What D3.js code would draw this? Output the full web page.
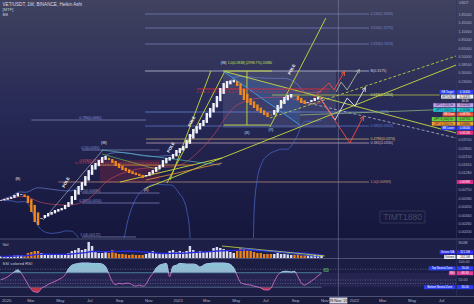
<!DOCTYPE html>
<html>
<head>
<meta charset="utf-8">
<script src="https://cdn.jsdelivr.net/npm/d3@7"></script>
<style>
html, body { margin: 0; padding: 0; background: #17193d; }
svg { display: block; font-family: "Liberation Sans", Arial, sans-serif; }
</style>
</head>
<body>
<svg id="chart" width="474" height="304"></svg>
<script>
// ---- data (weekly Heikin Ashi VET/USDT) ----
const barStart = Date.UTC(2019, 11, 30);
const firstOpen = 0.0054;
const haClose = [0.0055,0.00567,0.00586,0.00604,0.00643,0.00685,0.00664,0.00604,0.0050,0.00377,
  0.00275,0.0025,0.00312,0.00343,0.00365,0.00377,0.00401,0.00414,0.00427,0.0047,
  0.00516,0.00623,0.00753,0.00853,0.00967,0.01168,0.0141,0.0165,0.01759,0.0193,
  0.02125,0.0219,0.0193,0.01759,0.0160,0.01503,0.0141,0.01366,0.01282,0.01243,
  0.01206,0.01168,0.0110,0.01206,0.01325,0.0141,0.01552,0.0165,0.0193,0.0206,
  0.02125,0.02335,0.0265,0.0282,0.0300,0.0363,0.0438,0.0513,0.0563,0.0619,
  0.068,0.0847,0.0993,0.1161,0.1447,0.186,0.2178,0.2318,0.236,0.241,
  0.1981,0.1493,0.1276,0.1161,0.109,0.0993,0.0903,0.0847,0.0796,0.0747,
  0.0796,0.0932,0.109,0.1276,0.1402,0.1493,0.1541,0.1447,0.1276,0.1161,
  0.1125,0.1198,0.1276,0.1359,0.1402,0.1359];
// volume in millions
const volume = [80,80,106,106,132,159,132,159,265,318,
  371,371,265,212,185,159,159,185,159,212,
  265,371,424,530,424,477,848,636,318,265,
  265,318,265,424,265,212,212,185,159,185,
  159,159,159,212,265,371,265,212,212,265,
  371,424,318,371,318,371,636,424,318,371,
  318,318,371,530,583,530,477,371,318,265,
  424,530,477,424,371,318,265,265,212,212,
  212,212,265,212,212,185,159,159,159,132,
  132,132,132,159,132,132];
const rsiValues = [51,54,59,66,73,78,69,54,38,23,
  17,16,27,32,38,42,46,51,56,64,
  81,91,94,96,97,97,97,96,96,96,
  94,87,66,46,37,41,39,41,41,36,
  33,36,33,38,56,68,83,91,94,96,
  59,88,91,96,95,94,94,94,92,86,
  91,95,96,97,97,97,97,96,93,83,
  62,43,39,37,36,33,31,28,23,22,
  27,46,63,71,74,74,72,74,59,42,
  36,41,47,54,62,69];

const timeTicks = [["2020-01-01","2020"],["2020-03-01","Mar"],["2020-05-01","May"],["2020-07-01","Jul"],
  ["2020-09-01","Sep"],["2020-11-01","Nov"],["2021-01-01","2021"],["2021-03-01","Mar"],["2021-05-01","May"],
  ["2021-07-01","Jul"],["2021-09-01","Sep"],["2021-11-01","Nov"],["2022-01-01","2022"],["2022-03-01","Mar"],
  ["2022-05-01","May"],["2022-07-01","Jul"]];
const cursorDate = ["2021-11-29", "29 Nov '21"];
const priceTicks = [2.4,1.85,1.45,1.1,0.85,0.65,0.5,0.385,0.3,0.23,0.175,0.135,0.105,0.08,0.062,
  0.048,0.037,0.028,0.0215,0.0165,0.0128,0.0098,0.0075,0.0058,0.0045,0.0034,0.0026,0.002];

// fib levels: [label, price, fromBar, toBar]; right-hand labels sit at fibLabelBar
const fibLabelBar = 109.1;
const fibUpper = [["4.236(1.9063)",1.906,42.7,109.1],["3.618(1.2275)",1.2275,42.7,109.1],
  ["2.618(0.7423)",0.7423,42.7,109.1]];
const fibTop = [["B(0.3175)",0.3175,42.7,109.1]];
const fibRight = [["0.618(0.1493)",0.1493,80.3,130],["0.5(0.0875)",0.0875,42.7,109.1],
  ["0.382(0.0563)",0.0563,42.7,109.1],["0.4786(0.0374)",0.0374,43,109.1],
  ["0.382(0.0330)",0.0330,43,109.1],["1.0(0.00969)",0.00969,17,109.1]];
const fibLeft = [["0.786(0.0680)",0.068,9,43],["0.5(0.0265)",0.0265,24,47],["0.618(0.0176)",0.0176,22,47],
  ["0.5(0.00685)",0.00685,24,47],["0.382(0.0050)",0.0050,24,47],["1.0(0.00172)",0.00172,24,40]];
const fibRightColors = ["#dfe08a","#6d8fe6","#5f7fd8","#e2c07a","#d9b7c8","#c89a80"];
const fibLeftColors = ["#8a90c8","#8a90c8","#e04a5a","#8a90c8","#8a90c8","#8a90c8"];

// trend lines: [kind, [[bar, price], ...]]
const trendLines = [
  ["yellow", [[49.2,0.00939],[66.4,0.3175]]],
  ["yellow", [[50.1,0.0103],[62.2,0.3175]]],
  ["yellow", [[65.8,0.3175],[80.3,0.3175]]],
  ["yellow", [[66,0.0581],[79.7,0.0581]]],
  ["yellow", [[72.9,0.3175],[72.9,0.0581]]],
  ["yellow", [[65.8,0.3175],[134.9,0.0452]]],
  ["yellow", [[43,0.0080],[134.9,0.3835]]],
  ["yellow", [[79.7,0.0546],[96.3,1.681]]],
  ["yellow", [[35.3,0.00967],[65.5,0.0206]]],
  ["yellowDash", [[79.7,0.0724],[134.9,0.509]]],
  ["whiteDash", [[88.6,0.1236],[134.9,0.0386]]],
  ["blue", [[65.8,0.3175],[88.6,0.0581]]],
  ["thin", [[12.5,0.00293],[30.2,0.0265]]],
  ["teal", [[30,0.0265],[65,0.0165]]],
  ["green", [[30,0.0233],[47,0.0141]]],
  ["orange", [[43,0.0103],[65.5,0.0176]]],
  ["grayGreen", [[88.6,0.0796],[134.9,0.0961]]],
  ["red", [[58.1,0.1803],[97.5,0.1803]]],
  ["redDash", [[58.1,0.164],[97.5,0.164]]],
  ["orange", [[29,0.0165],[57,0.0165]]]
];
// projected paths
const zigzags = [
  ["white", [[94.6,0.1359],[99,0.068],[102.6,0.1359],[104.9,0.1055],[107.9,0.186]]],
  ["red", [[94.6,0.1359],[103.4,0.033],[107.3,0.0747]]],
  ["red", [[92.8,0.1402],[97.2,0.2178],[98.7,0.1747],[101.7,0.3077]]],
  ["gray", [[99.3,0.164],[100.8,0.2246],[102.6,0.1747],[106.1,0.3277]]]
];
const grayBox = [65.8, 99.3, 0.3175, 0.0529];
const maroonBox = [29.35, 47.1, 0.0193, 0.00939];
const blueWedge = [[65.8,0.3175],[88.6,0.0581],[88.6,0.1667]];
const waveLabels = [[5,0.0103,"(B)"],[30.5,0.0315,"(W)"],[43,0.0072,"(X)"],[66,0.396,"(W)"],[72.9,0.0440,"(X)"],[80,0.0480,"(Y)"]];
const poleLabels = [[19.6,0.00938],[50.7,0.0282],[56.9,0.0639],[86.5,0.3277]];
const peakText = [67.2, 0.392, "1.0(0.2838) (2998.7%) 20380"];

const axisMarks = [[0.164,"0.16400"],[0.1447,"0.14470"],[0.1125,"0.11250"],[0.1024,"0.10240"],[0.0875,"0.08750"],
  [0.0771,"0.07710"],[0.068,"0.06800"],[0.060,"0.06000"],[0.0513,"0.05130"],[0.00969,"0.00969"]];
const markNames = ["RB Target","VET/USDT","DPT 1 (20) Dn","DPT 2 (50) Dn","RB Zone","DPT 3 (100) Dn","DPT 4 (200) Dn","BB Lower","",""];
const markColors = ["#2c3ff0","#f2f2f6","#c3a2e8","#1fc9d6","#f0533a","#63d13a","#f2a02e","#2c3ff0","#e02a7c","#d22a82"];
const countdown = "3d 4h";
const volLines = [["yellow", [[65.5,635],[96,106]]], ["blue", [[70.8,529],[94.6,53]]]];

// ---- layout ----
const W = 474, H = 304, plotW = 456;
const mainBot = 238, volTop = 240, volBot = 258, rsiTop = 259, rsiBot = 296;
const svg = d3.select("#chart");
const defs = svg.append("defs");

const grad = defs.append("linearGradient").attr("id", "bgMain")
  .attr("x1", 0).attr("y1", 0).attr("x2", 0).attr("y2", 1);
grad.append("stop").attr("offset", "0%").attr("stop-color", "#40425f");
grad.append("stop").attr("offset", "45%").attr("stop-color", "#282a57");
grad.append("stop").attr("offset", "100%").attr("stop-color", "#14163c");

const obGrad = defs.append("linearGradient").attr("id", "obFill")
  .attr("x1", 0).attr("y1", 0).attr("x2", 0).attr("y2", 1);
obGrad.append("stop").attr("offset", "0%").attr("stop-color", "#9be4f0");
obGrad.append("stop").attr("offset", "100%").attr("stop-color", "#c9a4cf");

function clip(id, x, y, w, h) {
  defs.append("clipPath").attr("id", id).append("rect")
    .attr("x", x).attr("y", y).attr("width", w).attr("height", h);
}
clip("cMain", 0, 0, plotW, mainBot);
clip("cVol", 0, volTop, plotW, volBot - volTop);
clip("cRsi", 0, rsiTop, plotW, rsiBot - rsiTop);

[["#ff6a3a","aRed"],["#e8e8f0","aWhite"],["#a8b89a","aGray"]].forEach(([c, id]) => {
  defs.append("marker").attr("id", id).attr("viewBox", "0 0 10 10")
    .attr("refX", 8).attr("refY", 5).attr("markerWidth", 5).attr("markerHeight", 5)
    .attr("orient", "auto")
    .append("path").attr("d", "M0,0 L10,5 L0,10").attr("fill", "none")
    .attr("stroke", c).attr("stroke-width", 1.6);
});

// backgrounds
svg.append("rect").attr("width", W).attr("height", H).attr("fill", "#17193d");
svg.append("rect").attr("width", W).attr("height", mainBot).attr("fill", "url(#bgMain)");
svg.append("rect").attr("y", volTop).attr("width", W).attr("height", volBot - volTop).attr("fill", "#1d1f46");
svg.append("rect").attr("y", rsiTop).attr("width", W).attr("height", rsiBot - rsiTop).attr("fill", "#1b1d43");
svg.append("rect").attr("y", rsiBot).attr("width", W).attr("height", H - rsiBot).attr("fill", "#191b3d");
[mainBot + 1, volBot + 0.5, rsiBot + 0.5].forEach(v => {
  svg.append("line").attr("x1", 0).attr("x2", W).attr("y1", v).attr("y2", v)
    .attr("stroke", "#4d5077").attr("stroke-width", 1.2);
});
svg.append("line").attr("x1", plotW + 0.5).attr("x2", plotW + 0.5).attr("y1", 0).attr("y2", rsiBot)
  .attr("stroke", "#34375c").attr("stroke-width", 0.6);

// scales
const x = d3.scaleTime()
  .domain([new Date(Date.UTC(2019, 11, 28)), new Date(Date.UTC(2022, 6, 31))])
  .range([0, plotW]);
const bx = i => x(new Date(barStart + i * 7 * 864e5));
const y = d3.scaleLog().domain([0.001665, 2.961]).range([mainBot, 0]);
const yv = d3.scaleLinear().domain([0, 900]).range([volBot, 241]);
const yr = d3.scaleLinear().domain([0, 100]).range([298, 262]);
const pt = d => [bx(d[0]), y(d[1])];

// Heikin Ashi bars
let o = firstOpen;
const bars = haClose.map((c, i) => {
  const b = {i, o, c, up: c >= o};
  o = (o + c) / 2;
  return b;
});

const main = svg.append("g").attr("clip-path", "url(#cMain)");

// shaded regions
main.append("rect")
  .attr("x", bx(grayBox[0])).attr("width", bx(grayBox[1]) - bx(grayBox[0]))
  .attr("y", y(grayBox[2])).attr("height", y(grayBox[3]) - y(grayBox[2]))
  .attr("fill", "#b4b8dc").attr("fill-opacity", 0.14);
main.append("rect")
  .attr("x", bx(maroonBox[0])).attr("width", bx(maroonBox[1]) - bx(maroonBox[0]))
  .attr("y", y(maroonBox[2])).attr("height", y(maroonBox[3]) - y(maroonBox[2]))
  .attr("fill", "#8a2540").attr("fill-opacity", 0.35);
main.append("path").attr("d", "M" + blueWedge.map(pt).join("L") + "Z")
  .attr("fill", "#3c8ce6").attr("fill-opacity", 0.2);

// fib levels
function levels(list, colorOf, labelPos, lineColor) {
  list.forEach((d, k) => {
    const c = colorOf(k);
    main.append("line")
      .attr("x1", bx(d[2])).attr("x2", bx(d[3]))
      .attr("y1", y(d[1])).attr("y2", y(d[1]))
      .attr("stroke", lineColor ? lineColor(k) : c).attr("stroke-width", 0.8).attr("stroke-opacity", 0.85)
      .attr("stroke-dasharray", k === 2 && list === fibLeft ? "1.5,1" : null);
    const t = main.append("text").text(d[0]).attr("fill", c).attr("font-size", 3.6);
    if (labelPos === "right") {
      t.attr("x", bx(fibLabelBar) + 1.5).attr("y", y(d[1]) + 1.2);
    } else {
      t.attr("x", bx(26.5)).attr("y", y(d[1]) - 0.8).attr("text-anchor", "middle");
    }
  });
}
levels(fibUpper, () => "#7c85c6", "right");
levels(fibTop, () => "#d6d8ec", "right");
levels(fibRight, k => fibRightColors[k], "right", k => k === 0 ? "#c8dc3c" : fibRightColors[k]);
levels(fibLeft, k => fibLeftColors[k], "left");

// Bollinger bands from the HA closes
const bb = haClose.map((c, i) => {
  const w = haClose.slice(Math.max(0, i - 19), i + 1);
  const m = d3.mean(w);
  const s = Math.sqrt(d3.mean(w, v => (v - m) * (v - m)));
  return {i, m, up: m + 2 * s, lo: Math.max(1e-6, m - 2 * s)};
});
const bandLine = key => d3.line().x(d => bx(d.i)).y(d => y(d[key])).curve(d3.curveMonotoneX);
main.append("path").datum(bb).attr("d", bandLine("up")).attr("fill", "none")
  .attr("stroke", "#6b86d8").attr("stroke-width", 0.8).attr("stroke-opacity", 0.8);
main.append("path").datum(bb).attr("d", bandLine("lo")).attr("fill", "none")
  .attr("stroke", "#4f6fd6").attr("stroke-width", 0.8).attr("stroke-opacity", 0.85);
main.append("path").datum(bb).attr("d", bandLine("m")).attr("fill", "none")
  .attr("stroke", "#c84a5e").attr("stroke-width", 0.8).attr("stroke-opacity", 0.8);

// trend lines
const lineStyle = {
  yellow: ["#c8dc3c", 0.9, null], yellowDash: ["#c8dc3c", 0.8, "3,2"], whiteDash: ["#c6c8dc", 0.7, "3,2"],
  blue: ["#3aa0f0", 0.9, null], thin: ["#d8dae8", 0.5, null], teal: ["#5cc8c8", 0.6, null],
  green: ["#7ccc4c", 0.6, null], orange: ["#e8903a", 0.8, null], grayGreen: ["#8eae7c", 0.8, null],
  red: ["#e0283c", 0.9, null], redDash: ["#e0283c", 0.7, "2,1.5"]
};
trendLines.forEach(([kind, pts]) => {
  const s = lineStyle[kind];
  main.append("path").attr("d", "M" + pts.map(pt).join("L"))
    .attr("fill", "none").attr("stroke", s[0]).attr("stroke-width", s[1])
    .attr("stroke-dasharray", s[2]);
});

// candles
main.selectAll(".ha").data(bars).enter().append("rect").attr("class", "ha")
  .attr("x", d => bx(d.i) - 1.2).attr("width", 2.4)
  .attr("y", d => y(Math.max(d.o, d.c)))
  .attr("height", d => Math.max(0.7, Math.abs(y(d.o) - y(d.c))))
  .attr("fill", d => d.up ? "#f0f0f8" : "#f08a1e");

// projections
const zigColor = {white: ["#e8e8f0", "aWhite"], red: ["#ff4a3a", "aRed"], gray: ["#a8b89a", "aGray"]};
zigzags.forEach(([kind, pts]) => {
  main.append("path").attr("d", "M" + pts.map(pt).join("L"))
    .attr("fill", "none").attr("stroke", zigColor[kind][0]).attr("stroke-width", 0.9)
    .attr("marker-end", `url(#${zigColor[kind][1]})`);
});

// labels on the chart
waveLabels.forEach(d => {
  main.append("text").text(d[2]).attr("x", bx(d[0])).attr("y", y(d[1]))
    .attr("text-anchor", "middle").attr("fill", "#e6e6f0").attr("font-size", 3.6);
});
poleLabels.forEach(d => {
  main.append("text").text("POLE")
    .attr("transform", `translate(${bx(d[0])},${y(d[1])}) rotate(-62)`)
    .attr("text-anchor", "middle").attr("fill", "#f0f0f6").attr("font-size", 4.2)
    .attr("font-weight", "bold");
});
main.append("text").text(peakText[2]).attr("x", bx(peakText[0])).attr("y", y(peakText[1]))
  .attr("fill", "#cfe04a").attr("font-size", 3.4);

// watermark
svg.append("rect").attr("x", 380).attr("y", 211).attr("width", 45).attr("height", 12).attr("rx", 1)
  .attr("fill", "none").attr("stroke", "#3a3d5e").attr("stroke-width", 0.8);
svg.append("text").text("TIMT1880").attr("x", 402.5).attr("y", 220.3).attr("text-anchor", "middle")
  .attr("fill", "#464a68").attr("font-size", 8.5);

// header
svg.append("text").text("VET/USDT, 1W, BINANCE, Heikin Ashi").attr("x", 2.5).attr("y", 6)
  .attr("fill", "#dadbe6").attr("font-size", 4.6);
svg.append("text").text("[MTF]").attr("x", 2.5).attr("y", 11).attr("fill", "#c8c9d6").attr("font-size", 4.2);
svg.append("text").text("BB").attr("x", 2.5).attr("y", 15.8).attr("fill", "#c8c9d6").attr("font-size", 4.2);

// ---- volume pane ----
const vol = svg.append("g").attr("clip-path", "url(#cVol)");
vol.selectAll(".vb").data(bars).enter().append("rect").attr("class", "vb")
  .attr("x", d => bx(d.i) - 1.2).attr("width", 2.4)
  .attr("y", d => yv(volume[d.i])).attr("height", d => volBot - yv(volume[d.i]))
  .attr("fill", d => d.up ? "#dcdcf0" : "#e8821e");
const volMa = volume.map((v, i) => ({i, v: d3.mean(volume.slice(Math.max(0, i - 19), i + 1))}));
vol.append("path").datum(volMa)
  .attr("d", d3.line().x(d => bx(d.i)).y(d => yv(d.v)).curve(d3.curveMonotoneX))
  .attr("fill", "none").attr("stroke", "#2a2ae0").attr("stroke-width", 1.4);
volLines.forEach(([kind, pts]) => {
  vol.append("path").attr("d", "M" + pts.map(d => [bx(d[0]), yv(d[1])]).join("L"))
    .attr("fill", "none").attr("stroke", kind === "yellow" ? "#c8dc3c" : "#3a5af0").attr("stroke-width", 0.8);
});
svg.append("text").text("Vol").attr("x", 2.5).attr("y", 245.5).attr("fill", "#c8c9d6").attr("font-size", 4.2);

// ---- RSI pane ----
const rsi = svg.append("g").attr("clip-path", "url(#cRsi)");
rsi.append("rect").attr("x", 0).attr("width", plotW).attr("y", yr(70)).attr("height", yr(30) - yr(70))
  .attr("fill", "#7e57c2").attr("fill-opacity", 0.1);
[80, 50, 40].forEach(v => {
  rsi.append("line").attr("x1", 0).attr("x2", plotW).attr("y1", yr(v)).attr("y2", yr(v))
    .attr("stroke", "#8f92b8").attr("stroke-width", 0.5).attr("stroke-dasharray", "1,1.5");
});
[70, 30].forEach(v => {
  rsi.append("line").attr("x1", 0).attr("x2", bx(95)).attr("y1", yr(v)).attr("y2", yr(v))
    .attr("stroke", "#4cc0d8").attr("stroke-width", 0.6).attr("stroke-opacity", 0.8);
});
const rsiData = rsiValues.map((v, i) => ({i, v}));
clip("cOb", 0, rsiTop, plotW, yr(70) - rsiTop);
clip("cOs", 0, yr(30), plotW, rsiBot - yr(30));
const rx = d => bx(d.i);
rsi.append("path").datum(rsiData).attr("clip-path", "url(#cOb)")
  .attr("d", d3.area().x(rx).y0(yr(70)).y1(d => yr(d.v)).curve(d3.curveMonotoneX))
  .attr("fill", "url(#obFill)").attr("fill-opacity", 0.85);
rsi.append("path").datum(rsiData).attr("clip-path", "url(#cOs)")
  .attr("d", d3.area().x(rx).y0(yr(30)).y1(d => yr(d.v)).curve(d3.curveMonotoneX))
  .attr("fill", "#d43a4c").attr("fill-opacity", 0.85);
const rsiLine = d3.line().x(rx).y(d => yr(d.v)).curve(d3.curveMonotoneX);
rsi.append("path").datum(rsiData).attr("d", rsiLine)
  .attr("fill", "none").attr("stroke", "#d070c4").attr("stroke-width", 0.9);
rsi.append("path").datum(rsiData).attr("d", rsiLine).attr("clip-path", "url(#cOb)")
  .attr("fill", "none").attr("stroke", "#84dcec").attr("stroke-width", 0.9);
const rsiLast = rsiValues[rsiValues.length - 1];
svg.append("text").text(rsiLast).attr("x", bx(95.5)).attr("y", yr(rsiLast) - 1.5)
  .attr("fill", "#6ad06a").attr("font-size", 5);
svg.append("text").text("SSI colored RSI").attr("x", 2.5).attr("y", 264.5).attr("fill", "#c8c9d6").attr("font-size", 4.2);

// ---- cursor ----
const cx = x(new Date(cursorDate[0] + "T00:00:00Z"));
svg.append("line").attr("x1", cx).attr("x2", cx).attr("y1", 0).attr("y2", rsiBot)
  .attr("stroke", "#8c90ac").attr("stroke-width", 0.6).attr("stroke-opacity", 0.8);

// ---- time axis ----
timeTicks.forEach(([d, t]) => {
  const tx = x(new Date(d + "T00:00:00Z"));
  svg.append("text").text(t).attr("x", Math.max(tx, 1)).attr("y", 301.8)
    .attr("text-anchor", tx < 6 ? "start" : "middle").attr("fill", "#b4b7ca").attr("font-size", 4.3);
});
svg.append("rect").attr("x", cx - 9).attr("y", 297.5).attr("width", 18).attr("height", 6)
  .attr("fill", "#d2d3dc");
svg.append("text").text(cursorDate[1]).attr("x", cx).attr("y", 301.9).attr("text-anchor", "middle")
  .attr("fill", "#1a1c30").attr("font-size", 4.1);

// ---- price axis ----
const fmt = d3.format(".5f");
svg.append("text").text("USDT").attr("x", 459).attr("y", 4).attr("fill", "#b4b7ca").attr("font-size", 3.6);
priceTicks.forEach(p => {
  const yy = y(p);
  if (yy < 7 || (yy > 88 && yy < 136) || Math.abs(yy - y(0.00969)) < 4) return;
  svg.append("text").text(fmt(p)).attr("x", 458.5).attr("y", yy + 1.3)
    .attr("fill", "#aeb1c6").attr("font-size", 3.6);
});
// push overlapping labels apart (extra room under the last price for the countdown)
let lastY = -Infinity;
const markY = axisMarks.map((d, k) => {
  const gap = k === 2 ? 8.6 : 4.6;
  const yy = Math.max(y(d[0]), lastY + gap);
  lastY = yy;
  return yy;
});
axisMarks.forEach((d, k) => {
  const yy = markY[k];
  const dark = k === 1 || k === 2 || k === 3 || k === 5 || k === 6;
  svg.append("rect").attr("x", 456.8).attr("y", yy - 2).attr("width", 16.5).attr("height", 4)
    .attr("fill", markColors[k]);
  svg.append("text").text(d[1]).attr("x", 465).attr("y", yy + 1).attr("text-anchor", "middle")
    .attr("fill", dark ? "#131722" : "#ffffff").attr("font-size", 2.9);
  if (markNames[k]) {
    const w = markNames[k].length * 1.55 + 2;
    svg.append("rect").attr("x", 455.5 - w).attr("y", yy - 2).attr("width", w).attr("height", 4)
      .attr("fill", markColors[k]);
    svg.append("text").text(markNames[k]).attr("x", 455.5 - w / 2).attr("y", yy + 1)
      .attr("text-anchor", "middle").attr("fill", dark ? "#131722" : "#ffffff").attr("font-size", 2.7);
  }
});
svg.append("text").text(countdown).attr("x", 465).attr("y", markY[1] + 5.2).attr("text-anchor", "middle")
  .attr("fill", "#d6d8e4").attr("font-size", 2.8);

// volume & RSI axis labels
function paneMark(yy, name, value, fill, textFill) {
  const w = name.length * 1.55 + 2;
  svg.append("rect").attr("x", 455.5 - w).attr("y", yy - 2).attr("width", w).attr("height", 4).attr("fill", fill);
  svg.append("text").text(name).attr("x", 455.5 - w / 2).attr("y", yy + 1).attr("text-anchor", "middle")
    .attr("fill", textFill).attr("font-size", 2.7);
  svg.append("rect").attr("x", 456.8).attr("y", yy - 2).attr("width", 16.5).attr("height", 4).attr("fill", fill);
  svg.append("text").text(value).attr("x", 465).attr("y", yy + 1).attr("text-anchor", "middle")
    .attr("fill", textFill).attr("font-size", 2.9);
}
svg.append("text").text("800M").attr("x", 458.5).attr("y", yv(800) + 1.3).attr("fill", "#aeb1c6").attr("font-size", 3.6);
paneMark(252.4, "Volume MA", "321.3M", "#2c2ee8", "#ffffff");
paneMark(257, "Volume", "132.5M", "#f2f2f6", "#131722");
svg.append("text").text("100.00").attr("x", 458.5).attr("y", yr(100) + 1.3).attr("fill", "#aeb1c6").attr("font-size", 3.6);
svg.append("text").text("50.00").attr("x", 458.5).attr("y", yr(50) + 1.3).attr("fill", "#aeb1c6").attr("font-size", 3.6);
paneMark(268.4, "Top Neutral Zone", "70.00", "#2c3ff0", "#ffffff");
paneMark(273.2, "RSI", "69.33", "#e03c9c", "#ffffff");
paneMark(287.2, "Bottom Neutral Zone", "30.00", "#2c3ff0", "#ffffff");
</script>
</body>
</html>
